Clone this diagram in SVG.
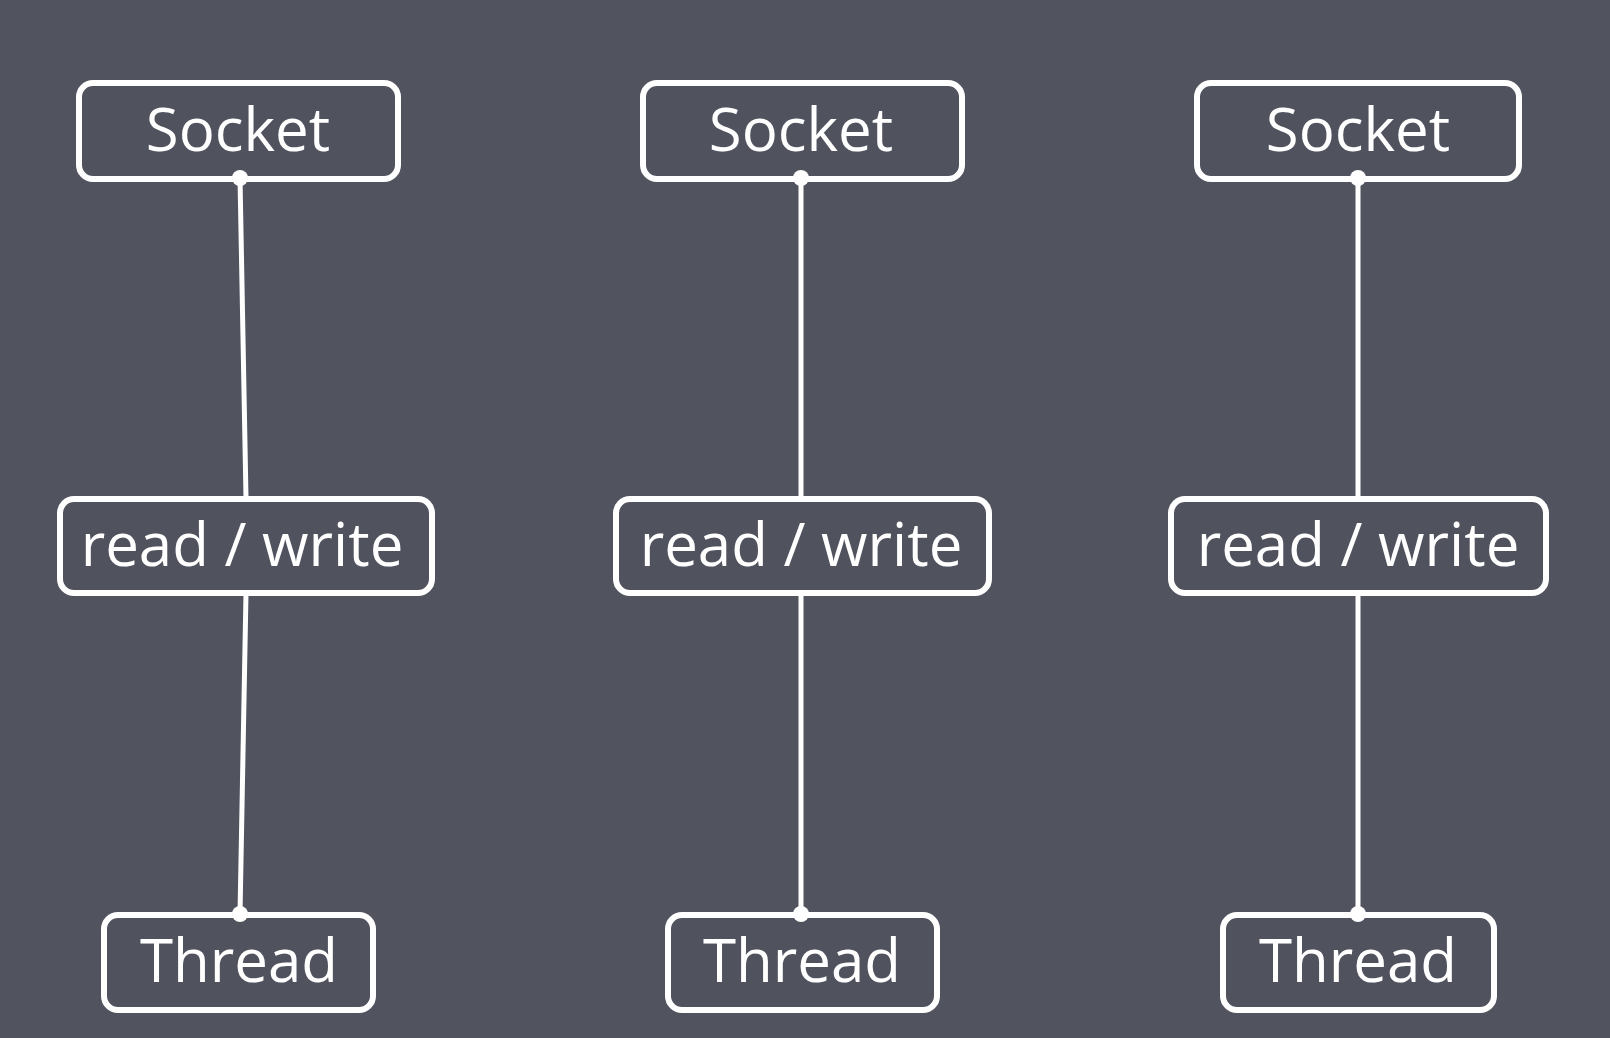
<svg xmlns="http://www.w3.org/2000/svg" width="1610" height="1038" viewBox="0 0 1610 1038">
  <style>
    .box { fill: #50525e; stroke: #ffffff; stroke-width: 6; }
    .lbl { fill: #ffffff; font-family: "Open Sans", "Noto Sans", sans-serif; font-size: 60px; text-anchor: middle; }
    .link { stroke: #ffffff; stroke-width: 5; fill: none; }
    .dot { fill: #ffffff; }
  </style>
  <rect width="1610" height="1038" fill="#51535f"/>
  <g id="socket1"><rect class="box" x="79" y="83" width="319" height="96" rx="14"/><text class="lbl" x="238" y="151">Socket</text></g>
  <g id="socket2"><rect class="box" x="643" y="83" width="319" height="96" rx="14"/><text class="lbl" x="801" y="151">Socket</text></g>
  <g id="socket3"><rect class="box" x="1197" y="83" width="322" height="96" rx="14"/><text class="lbl" x="1358" y="151">Socket</text></g>
  <g id="rw1"><rect class="box" x="60" y="499" width="372" height="94" rx="14"/><text class="lbl" x="242" y="566">read / write</text></g>
  <g id="rw2"><rect class="box" x="616" y="499" width="373" height="94" rx="14"/><text class="lbl" x="801" y="566">read / write</text></g>
  <g id="rw3"><rect class="box" x="1171" y="499" width="375" height="94" rx="14"/><text class="lbl" x="1358" y="566">read / write</text></g>
  <g id="thread1"><rect class="box" x="104" y="915" width="269" height="95" rx="14"/><text class="lbl" x="239" y="982">Thread</text></g>
  <g id="thread2"><rect class="box" x="668" y="915" width="269" height="95" rx="14"/><text class="lbl" x="802" y="982">Thread</text></g>
  <g id="thread3"><rect class="box" x="1223" y="915" width="271" height="95" rx="14"/><text class="lbl" x="1358" y="982">Thread</text></g>
  <g id="connectors">
    <line class="link" x1="240" y1="178" x2="246" y2="498"/>
    <line class="link" x1="246" y1="593" x2="240" y2="914"/>
    <line class="link" x1="801" y1="178" x2="801" y2="498"/>
    <line class="link" x1="801" y1="593" x2="801" y2="914"/>
    <line class="link" x1="1358" y1="178" x2="1358" y2="498"/>
    <line class="link" x1="1358" y1="593" x2="1358" y2="914"/>
    <circle class="dot" cx="240" cy="178" r="8"/>
    <circle class="dot" cx="801" cy="178" r="8"/>
    <circle class="dot" cx="1358" cy="178" r="8"/>
    <circle class="dot" cx="240" cy="914" r="8"/>
    <circle class="dot" cx="801" cy="914" r="8"/>
    <circle class="dot" cx="1358" cy="914" r="8"/>
  </g>
</svg>
